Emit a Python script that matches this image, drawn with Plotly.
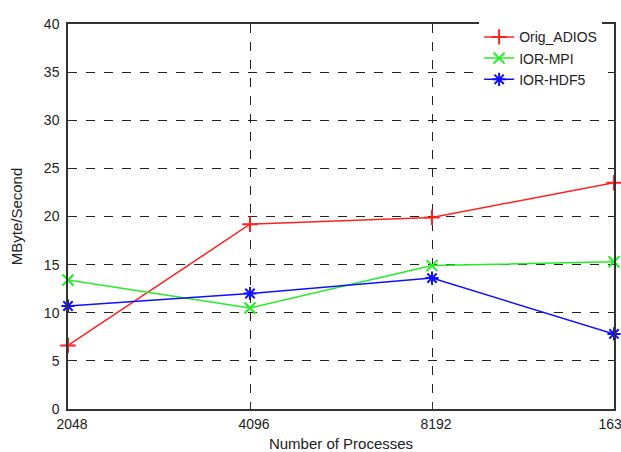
import plotly.graph_objects as go

processes = ["2048", "4096", "8192", "16384"]
orig_adios = [6.6, 19.2, 19.9, 23.5]
ior_mpi = [13.4, 10.5, 14.9, 15.3]
ior_hdf5 = [10.7, 12.0, 13.6, 7.8]
y_ticks = [0, 5, 10, 15, 20, 25, 30, 35, 40]

series = [
    ("Orig_ADIOS", orig_adios, "#ff2020", "cross-thin-open"),
    ("IOR-MPI", ior_mpi, "#22ee22", "x-thin-open"),
    ("IOR-HDF5", ior_hdf5, "#1010ff", "asterisk-open"),
]

fig = go.Figure()
for name, vals, color, sym in series:
    fig.add_trace(go.Scatter(
        x=processes, y=vals, name=name, mode="lines+markers",
        line=dict(color=color, width=1.5),
        marker=dict(symbol=sym, size=11, color=color, line=dict(color=color, width=2)),
        cliponaxis=False,
    ))

fam = "Liberation Sans, Arial, sans-serif"
tick_font = dict(family=fam, size=14, color="#222")
title_font = dict(family=fam, size=15, color="#222")
fig.update_layout(
    width=621, height=452,
    margin=dict(l=68, r=7, t=24, b=43),
    paper_bgcolor="white", plot_bgcolor="white",
    template="none",
    font=tick_font,
    showlegend=True,
    legend=dict(x=0.753, y=1.007, xanchor="left", yanchor="top",
                bgcolor="white", borderwidth=0,
                font=dict(family=fam, size=14, color="#222"),
                tracegroupgap=0, itemwidth=30),
    xaxis=dict(
        type="category", categoryorder="array", categoryarray=processes,
        range=[0, 3], automargin=False,
        showgrid=True, gridcolor="#222", griddash="dash", gridwidth=1,
        showline=True, linecolor="#333", linewidth=1.5, mirror=True,
        ticks="inside", ticklen=5, tickcolor="#333",
        tickfont=tick_font, zeroline=False,
        ticklabeloverflow="allow", ticklabelstandoff=1, ticklabelshift=4,
        title=dict(text="Number of Processes", font=title_font, standoff=12),
    ),
    yaxis=dict(
        range=[0, 40], tickvals=y_ticks, automargin=False,
        showgrid=True, gridcolor="#222", griddash="dash", gridwidth=1,
        showline=True, linecolor="#333", linewidth=1.5, mirror=True,
        ticks="inside", ticklen=5, tickcolor="#333",
        tickfont=tick_font, zeroline=False, ticklabelstandoff=4,
        title=dict(text="MByte/Second", font=title_font, standoff=18),
    ),
)

fig.write_html(
    "out.html",
    config={"displayModeBar": False},
    post_script="document.body.style.margin='0';document.body.style.padding='0';",
)
